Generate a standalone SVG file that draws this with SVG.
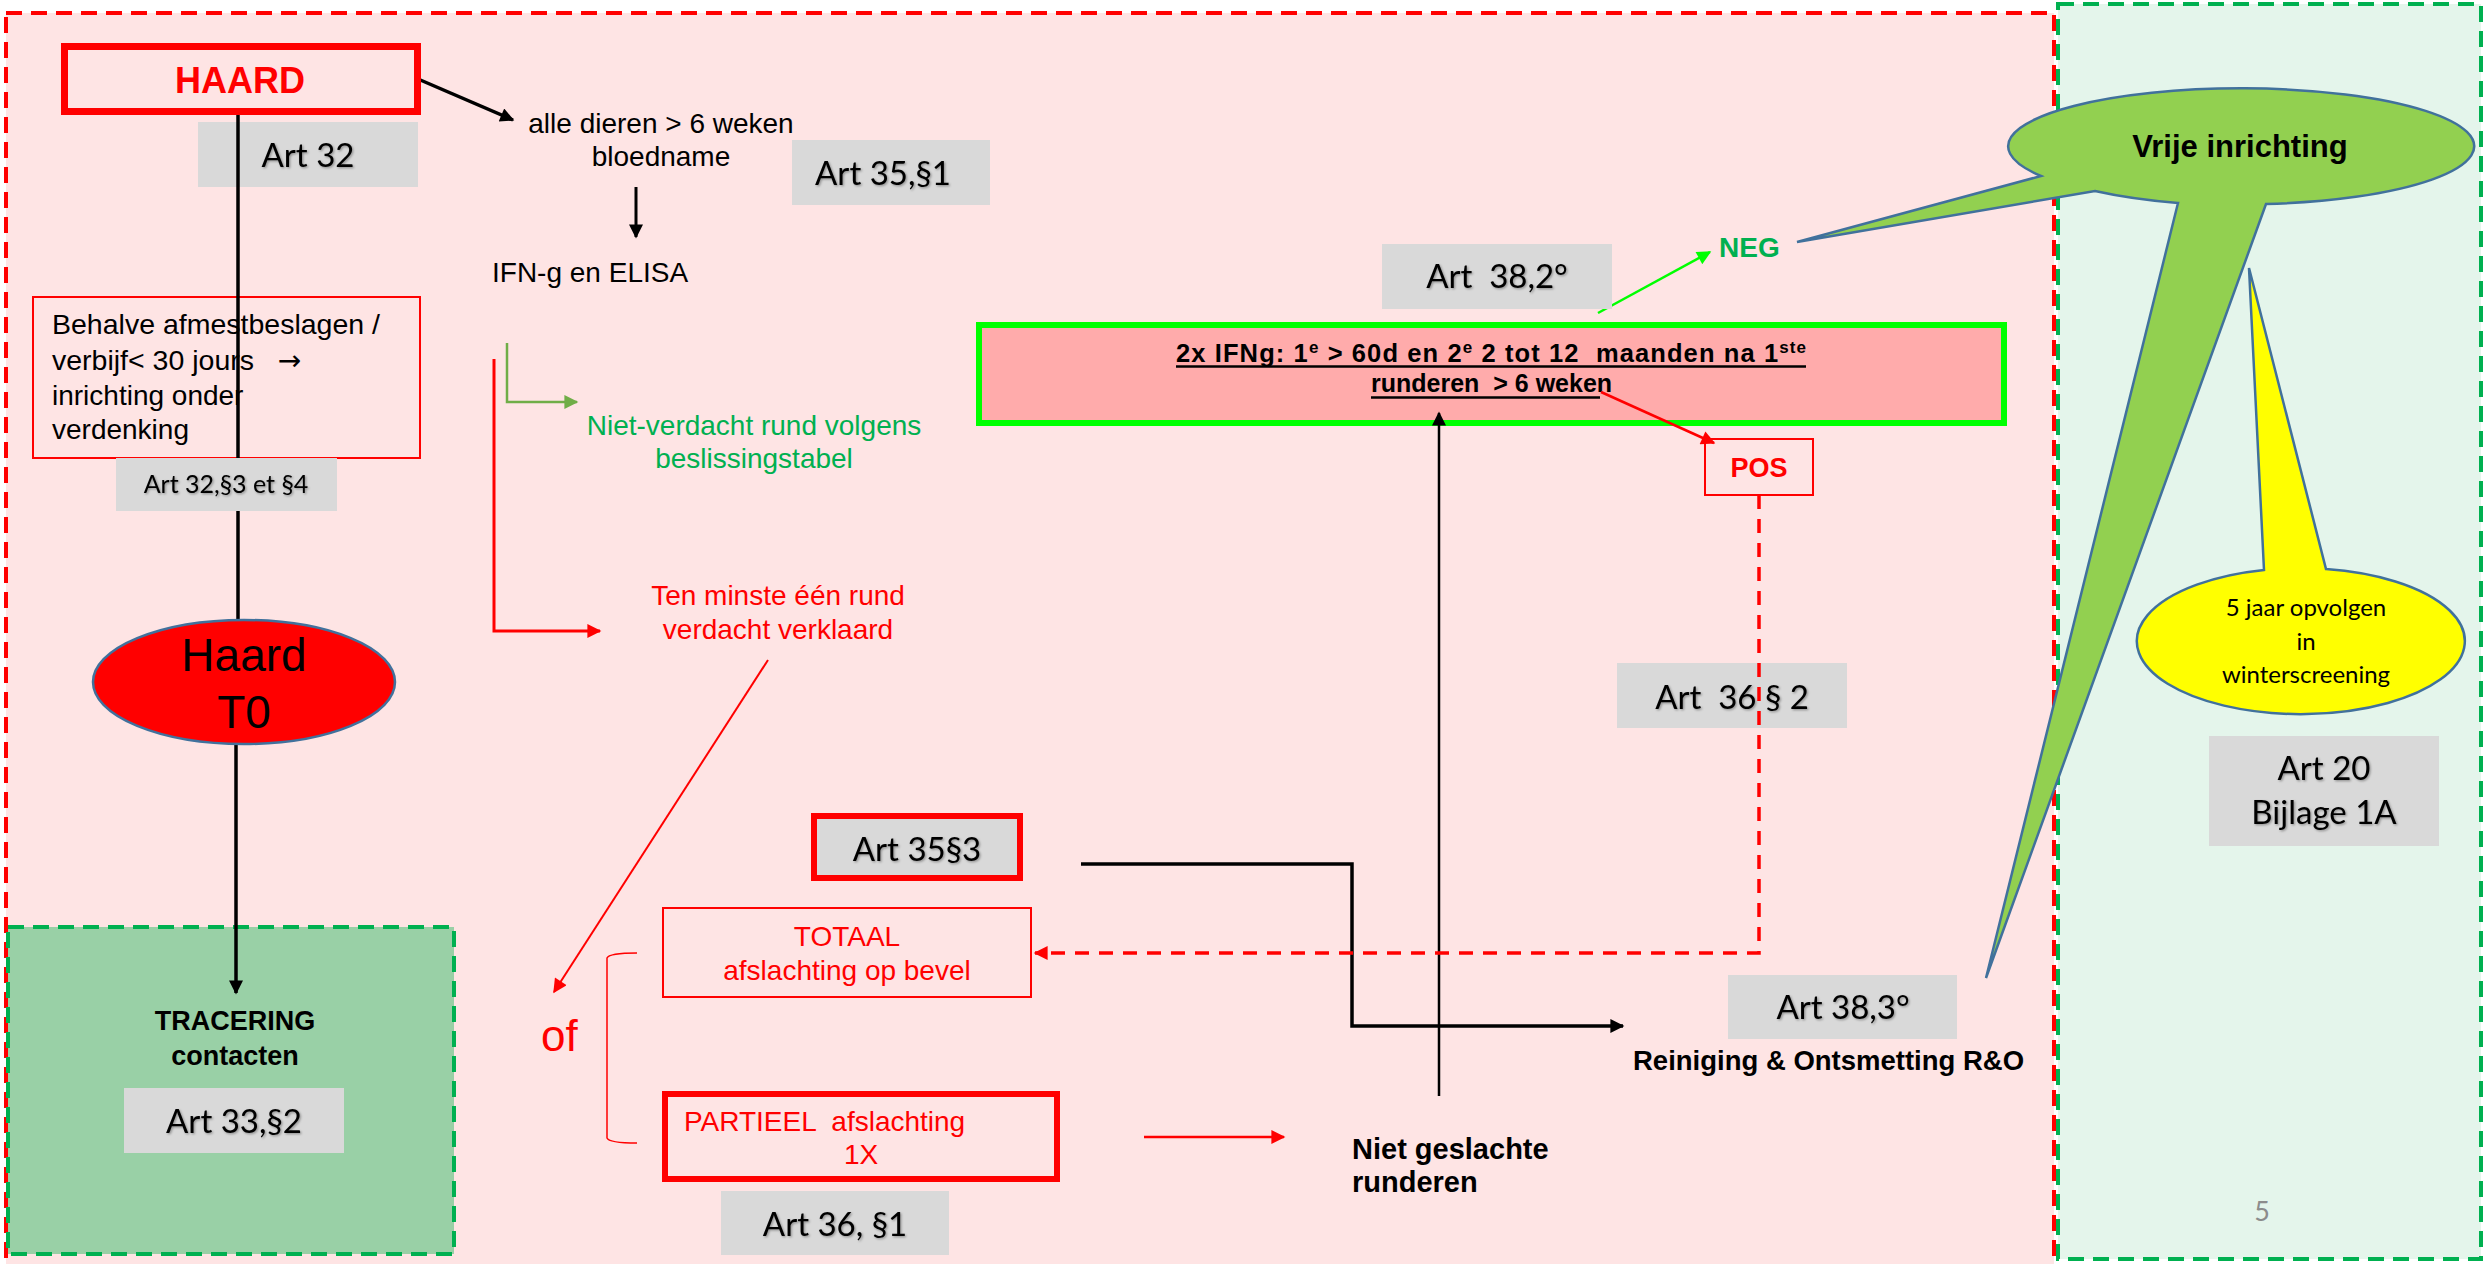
<svg xmlns="http://www.w3.org/2000/svg" width="2483" height="1264" viewBox="0 0 2483 1264">
<style>
.a{font-family:"Liberation Sans",Arial,sans-serif}
.c{font-family:Lato,"Open Sans",sans-serif}
.lbl{font-family:Lato,"Open Sans",sans-serif;font-size:33px;fill:#000;text-anchor:middle;filter:url(#sh)}
.gb{fill:#d9d9d9}
.rt{fill:#ff0000;font-family:"Liberation Sans",Arial,sans-serif;font-size:28px}
.mid{text-anchor:middle}
.b{font-weight:bold}
.blk{stroke:#000;fill:none}
</style>
<defs>
<filter id="sh" x="-10%" y="-10%" width="130%" height="140%"><feDropShadow dx="1.2" dy="1.2" stdDeviation="0.8" flood-color="#000" flood-opacity="0.35"/></filter>
<marker id="mk" viewBox="0 0 10 10" refX="9" refY="5" markerWidth="18" markerHeight="14" markerUnits="userSpaceOnUse" orient="auto"><path d="M0,0 L10,5 L0,10 z" fill="#000"/></marker>
<marker id="mr" viewBox="0 0 10 10" refX="9" refY="5" markerWidth="18" markerHeight="14" markerUnits="userSpaceOnUse" orient="auto"><path d="M0,0 L10,5 L0,10 z" fill="#ff0000"/></marker>
<marker id="mo" viewBox="0 0 10 10" refX="9" refY="5" markerWidth="18" markerHeight="14" markerUnits="userSpaceOnUse" orient="auto"><path d="M0,0 L10,5 L0,10 z" fill="#70ad47"/></marker>
<marker id="mg" viewBox="0 0 10 10" refX="9" refY="5" markerWidth="18" markerHeight="14" markerUnits="userSpaceOnUse" orient="auto"><path d="M0,0 L10,5 L0,10 z" fill="#00ff00"/></marker>
</defs>
<rect width="2483" height="1264" fill="#fff"/>
<g id="zone-haard">
<rect x="6" y="13" width="2048" height="1262" fill="#fee4e4" stroke="#ff0000" stroke-width="4" stroke-dasharray="16 9"/>
</g>
<g id="zone-vrij">
<rect x="2058" y="4" width="423" height="1255" fill="#e4f5eb" stroke="#00b050" stroke-width="4" stroke-dasharray="16 9"/>
</g>
<g id="tracering">
<rect x="8" y="927" width="446" height="327" fill="#99d0a6" stroke="#00b050" stroke-width="4" stroke-dasharray="16 9"/>
<text class="a b mid" x="235" y="1030" font-size="27">TRACERING</text>
<text class="a b mid" x="235" y="1065" font-size="27">contacten</text>
<rect class="gb" x="124" y="1088" width="220" height="65"/>
<text class="lbl" x="234" y="1133">Art 33,§2</text>
</g>
<g id="art32"><rect class="gb" x="198" y="122" width="220" height="65"/><text class="lbl" x="308" y="167">Art 32</text></g>
<g id="behalve">
<rect x="33" y="297" width="387" height="161" fill="none" stroke="#ff0000" stroke-width="2"/>
<text class="a" font-size="28.5" x="52" y="334">Behalve afmestbeslagen /</text>
<text class="a" font-size="28.5" x="52" y="370" xml:space="preserve">verbijf&lt; 30 jours   <tspan font-family="DejaVu Sans" font-size="28">→</tspan></text>
<text class="a" font-size="28" x="52" y="405">inrichting onder</text>
<text class="a" font-size="28" x="52" y="439">verdenking</text>
</g>
<g id="connectors">
<path class="blk" stroke-width="3.5" d="M238,115 V619"/>
<path class="blk" stroke-width="3.5" d="M236,744 V993" marker-end="url(#mk)"/>
<path class="blk" stroke-width="3.5" d="M418,79 L513,120" marker-end="url(#mk)"/>
<path class="blk" stroke-width="3" d="M636,187 V237" marker-end="url(#mk)"/>
<path fill="none" stroke="#70ad47" stroke-width="2.5" d="M507,343 V402 H577" marker-end="url(#mo)"/>
<path fill="none" stroke="#ff0000" stroke-width="3" d="M494,359 V631 H600" marker-end="url(#mr)"/>
<path fill="none" stroke="#ff0000" stroke-width="2" d="M768,660 L554,992" marker-end="url(#mr)"/>
<path fill="none" stroke="#ff0000" stroke-width="1.5" d="M637,953 Q609,953 607,958 V1138 Q609,1143 637,1143"/>
<path fill="none" stroke="#ff0000" stroke-width="2.5" d="M1144,1137 H1284" marker-end="url(#mr)"/>
<path class="blk" stroke-width="3.5" d="M1081,864 H1352 V1026 H1623" marker-end="url(#mk)"/>
<path fill="none" stroke="#00ff00" stroke-width="2.5" d="M1598,313 L1710,252" marker-end="url(#mg)"/>
</g>
<g id="art32-3"><rect class="gb" x="116" y="458" width="221" height="53"/><text class="c mid" font-size="25" x="226" y="493" filter="url(#sh)">Art 32,§3 et §4</text></g>
<g id="haard"><rect x="64.5" y="46.5" width="353" height="65" fill="none" stroke="#ff0000" stroke-width="7"/><text class="a b mid" x="240" y="93" font-size="36" fill="#ff0000">HAARD</text></g>
<g id="haard-t0">
<ellipse cx="244" cy="682" rx="151" ry="62" fill="#ff0000" stroke="#41719c" stroke-width="2.5"/>
<text class="a mid" x="244" y="671" font-size="46">Haard</text>
<text class="a mid" x="244" y="728" font-size="46">T0</text>
</g>
<g id="bloedname">
<text class="a mid" x="661" y="133" font-size="28">alle dieren &gt; 6 weken</text>
<text class="a mid" x="661" y="166" font-size="28">bloedname</text>
</g>
<g id="art35-1"><rect class="gb" x="792" y="140" width="198" height="65"/><text class="lbl" x="883" y="185">Art 35,§1</text></g>
<g id="ifn"><text class="a" x="492" y="282" font-size="28">IFN-g en ELISA</text></g>
<g id="niet-verdacht">
<text class="a mid" x="754" y="435" font-size="28" fill="#00b050">Niet-verdacht rund volgens</text>
<text class="a mid" x="754" y="468" font-size="28" fill="#00b050">beslissingstabel</text>
</g>
<g id="verdacht">
<text class="rt mid" x="778" y="605">Ten minste één rund</text>
<text class="rt mid" x="778" y="639">verdacht verklaard</text>
</g>
<g id="of"><text class="a" x="541" y="1051" font-size="44" fill="#ff0000">of</text></g>
<g id="totaal">
<rect x="663" y="908" width="368" height="89" fill="none" stroke="#ff0000" stroke-width="2"/>
<text class="rt mid" x="847" y="946">TOTAAL</text>
<text class="rt mid" x="847" y="980">afslachting op bevel</text>
</g>
<g id="art35-3"><rect x="814" y="816" width="206" height="62" fill="#d9d9d9" stroke="#ff0000" stroke-width="6"/><text class="lbl" x="917" y="861">Art 35§3</text></g>
<g id="partieel">
<rect x="665" y="1094" width="392" height="85" fill="none" stroke="#ff0000" stroke-width="6"/>
<text class="rt" x="684" y="1131" xml:space="preserve">PARTIEEL  afslachting</text>
<text class="rt mid" x="861" y="1164">1X</text>
</g>
<g id="art36-1"><rect class="gb" x="721" y="1191" width="228" height="64"/><text class="lbl" x="835" y="1236">Art 36, §1</text></g>
<g id="niet-geslacht">
<text class="a b" x="1352" y="1159" font-size="29">Niet geslachte</text>
<text class="a b" x="1352" y="1192" font-size="29">runderen</text>
</g>
<g id="ifng-test">
<rect x="979" y="325" width="1025" height="98" fill="#ffabab" stroke="#00ff00" stroke-width="6"/>
<text class="a b" x="1176" y="362" font-size="25.5" textLength="630" lengthAdjust="spacing">2x IFNg: 1<tspan font-size="17" dy="-9">e</tspan><tspan dy="9"> &gt; 60d en 2</tspan><tspan font-size="17" dy="-9">e</tspan><tspan dy="9" xml:space="preserve"> 2 tot 12  maanden na 1</tspan><tspan font-size="17" dy="-9">ste</tspan></text>
<line x1="1176" y1="366.5" x2="1806" y2="366.5" stroke="#000" stroke-width="2.5"/>
<text class="a b" x="1371" y="392" font-size="25" xml:space="preserve">runderen  &gt; 6 weken</text>
<line x1="1371" y1="397.5" x2="1600" y2="397.5" stroke="#000" stroke-width="2.5"/>
</g>
<g id="connectors-top">
<path class="blk" stroke-width="2.5" d="M1439,1096 V413" marker-end="url(#mk)"/>
<path fill="none" stroke="#ff0000" stroke-width="2.5" d="M1601,392 L1714,443" marker-end="url(#mr)"/>
</g>
<g id="art38-2"><rect class="gb" x="1382" y="244" width="230" height="65"/><text class="lbl" x="1497" y="288" xml:space="preserve">Art  38,2°</text></g>
<g id="neg"><text class="a b" x="1719" y="257" font-size="28" fill="#00b050">NEG</text></g>
<g id="pos"><rect x="1705" y="439" width="108" height="56" fill="none" stroke="#ff0000" stroke-width="2"/><text class="a b mid" x="1759" y="477" font-size="27" fill="#ff0000">POS</text></g>
<g id="art36-2"><rect class="gb" x="1617" y="663" width="230" height="65"/><text class="lbl" x="1732" y="709" xml:space="preserve">Art  36 § 2</text></g>
<g id="pos-connector"><path fill="none" stroke="#ff0000" stroke-width="3.5" stroke-dasharray="14 10" d="M1759,495 V953 H1035" marker-end="url(#mr)"/></g>
<g id="art38-3"><rect class="gb" x="1728" y="975" width="229" height="64"/><text class="lbl" x="1843" y="1019">Art 38,3°</text></g>
<g id="reiniging"><text class="a b" x="1633" y="1070" font-size="27.5">Reiniging &amp; Ontsmetting R&amp;O</text></g>
<g id="vrije-inrichting">
<path d="M2266,204 A233,58 0 1 0 2041,176 L1797,242 L2095,191 A233,58 0 0 0 2178,203 L1986,978 Z" fill="#92d050" stroke="#41719c" stroke-width="2.5" stroke-linejoin="miter"/>
<text class="a b mid" x="2240" y="157" font-size="31">Vrije inrichting</text>
</g>
<g id="winterscreening">
<path d="M2264,570 L2249,268 L2326,569 A164,73 0 1 1 2264,570 Z" fill="#ffff00" stroke="#41719c" stroke-width="2.5"/>
<text class="c mid" x="2306" y="616" font-size="24">5 jaar opvolgen</text>
<text class="c mid" x="2306" y="650" font-size="24">in</text>
<text class="c mid" x="2306" y="683" font-size="24">winterscreening</text>
</g>
<g id="art20"><rect class="gb" x="2209" y="736" width="230" height="110"/><text class="lbl" x="2324" y="780">Art 20</text><text class="lbl" x="2324" y="824">Bijlage 1A</text></g>
<g id="pagenum"><text class="c mid" x="2262" y="1221" font-size="27" fill="#8c8c8c">5</text></g>
</svg>
